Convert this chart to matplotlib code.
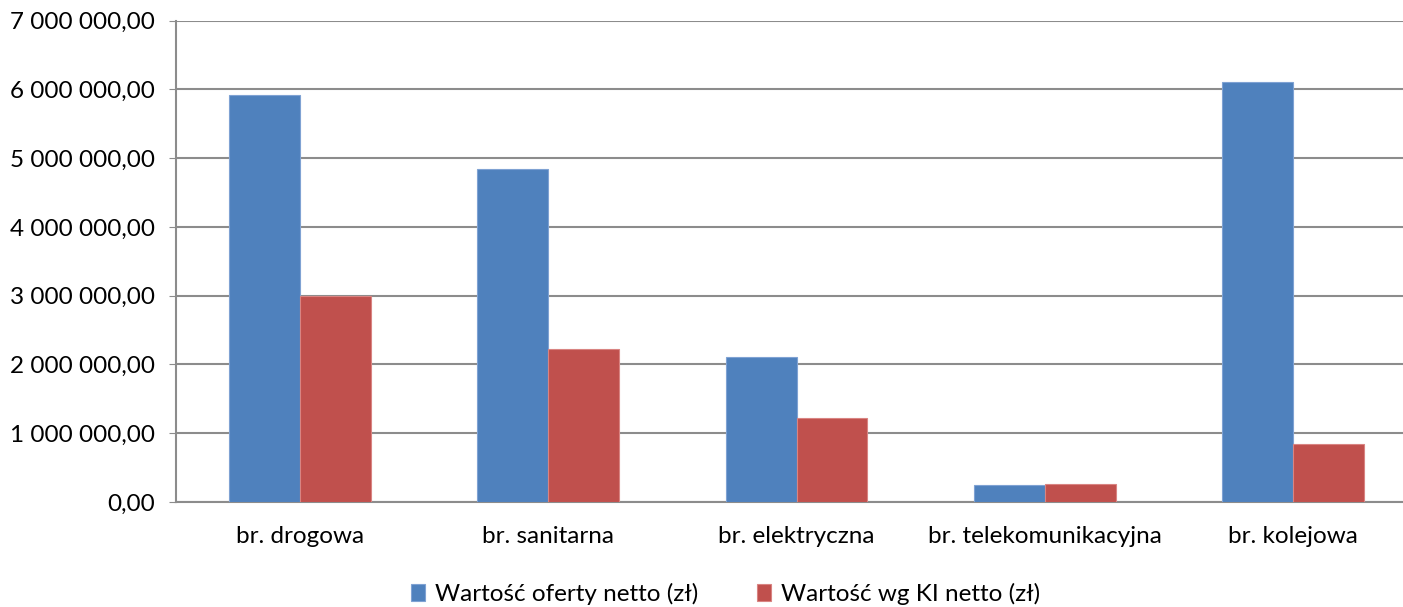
import matplotlib
matplotlib.use("Agg")
import matplotlib.pyplot as plt
import numpy as np
from matplotlib.ticker import FuncFormatter

categories = ["br. drogowa", "br. sanitarna", "br. elektryczna", "br. telekomunikacyjna", "br. kolejowa"]
oferta = [5920000, 4840000, 2110000, 240000, 6110000]
ki = [2990000, 2220000, 1220000, 260000, 840000]
series_names = ["Wartość oferty netto (zł)", "Wartość wg KI netto (zł)"]
colors = ["#4F81BD", "#C0504D"]

plt.rcParams['font.family'] = ['Lato', 'DejaVu Sans']

fig = plt.figure(figsize=(14.03, 6.07), dpi=100)
ax = fig.add_axes([176/1403, 1-502/607, 1241/1403, (502-20.5)/607])

x = np.arange(len(categories))
w = 0.286
ax.bar(x - w/2, oferta, w, color=colors[0], edgecolor="#7FA2D3", linewidth=0.8, label=series_names[0], zorder=3)
ax.bar(x + w/2, ki, w, color=colors[1], edgecolor="#D98482", linewidth=0.8, label=series_names[1], zorder=3)

ax.set_xlim(-0.5, len(categories) - 0.5)
ax.set_ylim(0, 7000000)
ax.set_yticks(np.arange(0, 7000001, 1000000))

def fmt(v, pos):
    s = f"{v:,.2f}".replace(",", " ").replace(".", ",")
    return s
ax.yaxis.set_major_formatter(FuncFormatter(fmt))
ax.yaxis.grid(True, color="#8C8C8C", linewidth=1.5, zorder=0)
ax.set_axisbelow(True)
ax.set_xticks(x)
ax.set_xticklabels(categories)
ax.tick_params(axis='x', length=0, pad=17, labelsize=17.5)
ax.tick_params(axis='y', length=5, color="#8C8C8C", pad=10, labelsize=17.5)
for s in ["top", "right"]:
    ax.spines[s].set_visible(False)
for s in ["left", "bottom"]:
    ax.spines[s].set_color("#8C8C8C")
    ax.spines[s].set_linewidth(1.5)

fig.legend(loc="center", bbox_to_anchor=(0.517, 1-594/607), ncol=2, frameon=False,
           fontsize=17.5, handlelength=0.6, handleheight=0.7, handletextpad=0.4, columnspacing=2.4)

fig.savefig("out.png", dpi=100)
